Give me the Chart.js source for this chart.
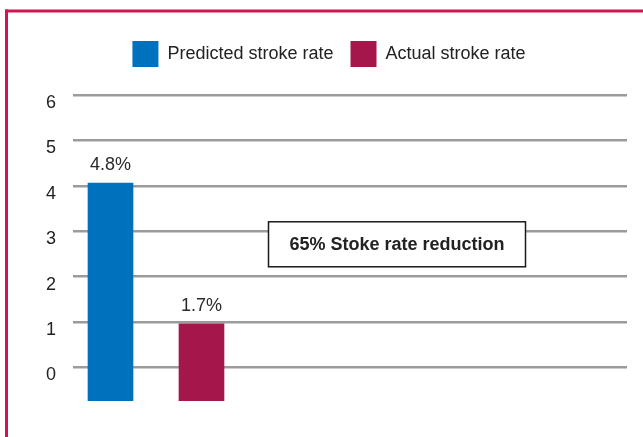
<!DOCTYPE html>
<html>
<head>
<meta charset="utf-8">
<script src="https://cdn.jsdelivr.net/npm/chart.js@4.4.1/dist/chart.umd.min.js"></script>
<style>
  html, body { margin: 0; padding: 0; background: #fff; }
  canvas { display: block; }
</style>
</head>
<body>
<canvas id="chart" width="643" height="437"></canvas>
<script>
// Stroke rates, in percent
const categories = ['Predicted stroke rate', 'Actual stroke rate'];
const strokeRates = [4.8, 1.7];
const barColors = ['#0071bc', '#a5174b'];
const tickLabels = ['0', '1', '2', '3', '4', '5', '6'];
const reductionNote = '65% Stoke rate reduction';

// The printed axis gridlines sit this far above the bars' baseline
const gridShift = 0.74;
const valueMax = 7.14;

const FONT = "'Liberation Sans', Arial, Helvetica, sans-serif";
Chart.defaults.font.family = FONT;
Chart.defaults.color = '#222';

const datasets = categories.map((name, i) => ({
  label: name,
  data: [{ x: i, y: strokeRates[i] }],
  backgroundColor: barColors[i],
  borderWidth: 0,
  barThickness: 45,
  grouped: false,
  xAxisID: 'x',
  yAxisID: 'v'
}));

// Crimson frame along the top and left edges
const framePlugin = {
  id: 'frame',
  beforeDraw(chart) {
    const ctx = chart.ctx;
    ctx.save();
    ctx.fillStyle = '#ffffff';
    ctx.fillRect(0, 0, chart.width, chart.height);
    ctx.fillStyle = '#cf1650';
    ctx.fillRect(5, 9.5, chart.width - 5, 3);
    ctx.fillRect(5, 9.5, 3, chart.height - 9.5);
    ctx.restore();
  }
};

// Percent labels above each bar
const valueLabelPlugin = {
  id: 'valueLabels',
  afterDatasetsDraw(chart) {
    const ctx = chart.ctx;
    ctx.save();
    ctx.font = '18px ' + FONT;
    ctx.fillStyle = '#2a2a2a';
    ctx.textAlign = 'center';
    ctx.textBaseline = 'alphabetic';
    chart.data.datasets.forEach((ds, i) => {
      const bar = chart.getDatasetMeta(i).data[0];
      ctx.fillText(strokeRates[i].toFixed(1) + '%', bar.x, bar.y - 13);
    });
    ctx.restore();
  }
};

// Boxed note to the right of the bars
const notePlugin = {
  id: 'note',
  afterDraw(chart) {
    const ctx = chart.ctx;
    const area = chart.chartArea;
    const yScale = chart.scales.y;
    const left = area.left + 195.5;
    const top = yScale.getPixelForValue(3) - 9.5;
    const w = 257, h = 45;
    ctx.save();
    ctx.fillStyle = '#ffffff';
    ctx.fillRect(left, top, w, h);
    ctx.strokeStyle = '#1a1a1a';
    ctx.lineWidth = 1.5;
    ctx.strokeRect(left, top, w, h);
    ctx.font = 'bold 18px ' + FONT;
    ctx.fillStyle = '#222';
    ctx.textAlign = 'center';
    ctx.textBaseline = 'middle';
    ctx.fillText(reductionNote, left + w / 2, top + h / 2 + 1);
    ctx.restore();
  }
};

new Chart(document.getElementById('chart'), {
  type: 'bar',
  data: { datasets },
  plugins: [framePlugin, valueLabelPlugin, notePlugin],
  options: {
    responsive: false,
    animation: false,
    layout: { padding: { left: 31, right: 16, top: 24, bottom: 36 } },
    plugins: {
      tooltip: { enabled: false },
      legend: {
        position: 'top',
        labels: {
          boxWidth: 26,
          boxHeight: 26,
          padding: 17,
          color: '#222',
          font: { size: 18 }
        }
      }
    },
    scales: {
      x: {
        type: 'linear',
        display: false,
        offset: false,
        min: -0.412,
        max: 5.676
      },
      v: {
        type: 'linear',
        display: false,
        min: 0,
        max: valueMax
      },
      y: {
        type: 'linear',
        position: 'left',
        min: -gridShift,
        max: valueMax - gridShift,
        afterBuildTicks(scale) {
          scale.ticks = tickLabels.map(t => ({ value: Number(t) }));
        },
        afterFit(scale) { scale.width = 42; },
        border: { display: false },
        grid: { color: '#9b9b9b', lineWidth: 2.5, drawTicks: false },
        ticks: {
          padding: 17,
          labelOffset: 8,
          color: '#222',
          font: { size: 18 },
          callback: (value, index) => tickLabels[index]
        }
      }
    }
  }
});
</script>
</body>
</html>
